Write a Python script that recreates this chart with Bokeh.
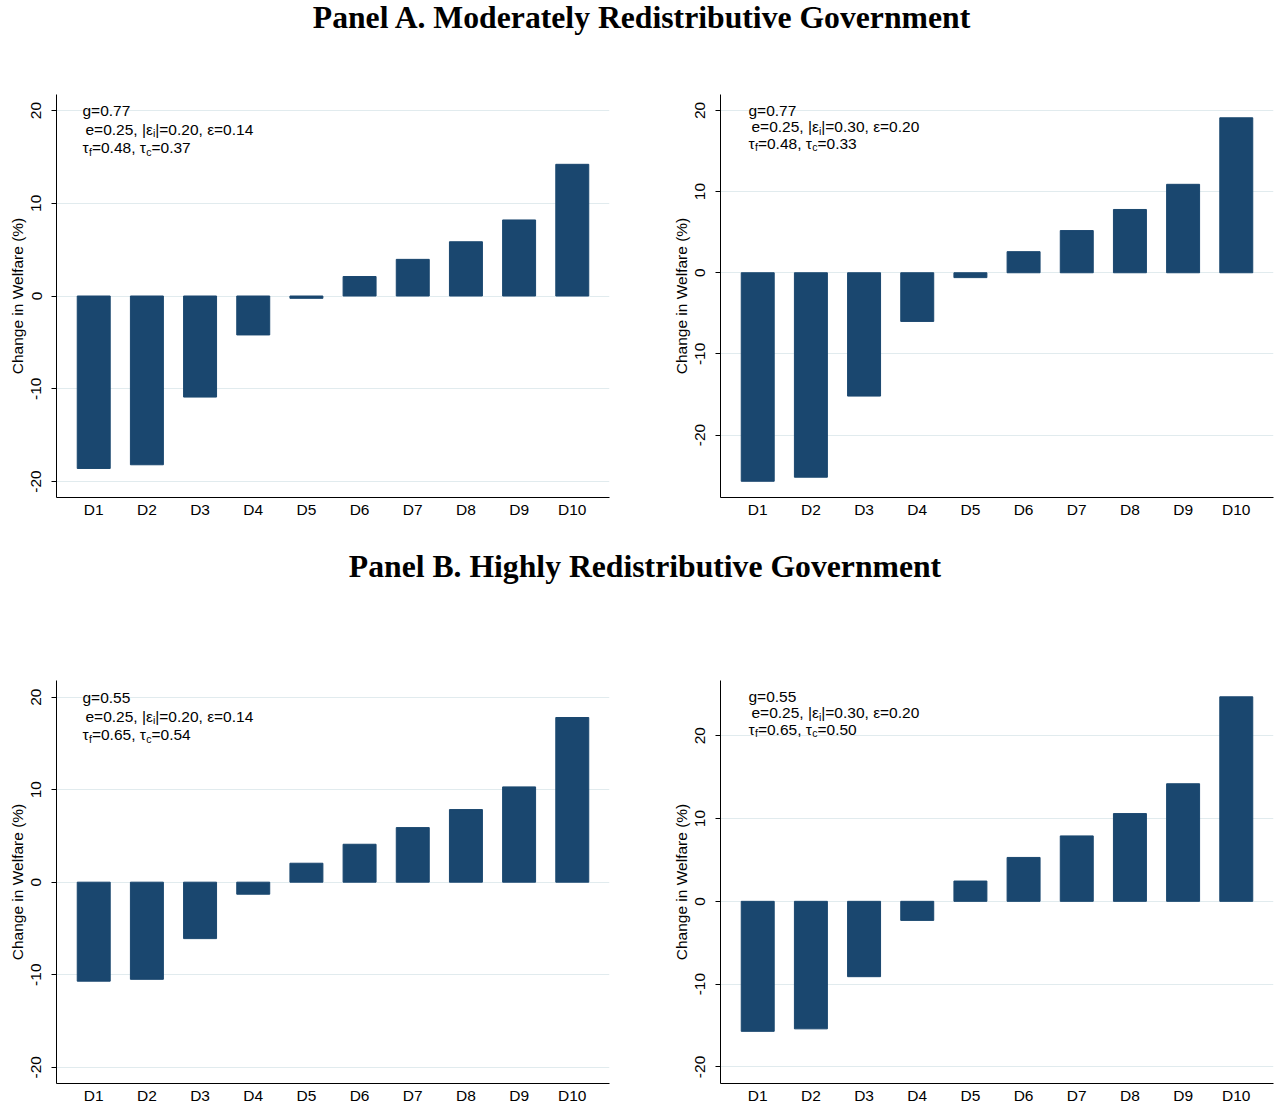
from bokeh.plotting import figure
from bokeh.models import FactorRange, Range1d, FixedTicker, Label, Div
from bokeh.layouts import column, row
from bokeh.embed import file_html
from bokeh.resources import INLINE

# ---------------- data ----------------
deciles = ["D1", "D2", "D3", "D4", "D5", "D6", "D7", "D8", "D9", "D10"]

welfare_a_left = [-18.6, -18.2, -10.9, -4.2, -0.25, 2.1, 3.95, 5.85, 8.2, 14.2]
welfare_a_right = [-25.7, -25.2, -15.2, -6.0, -0.6, 2.6, 5.2, 7.8, 10.9, 19.1]
welfare_b_left = [-10.7, -10.5, -6.1, -1.3, 2.05, 4.1, 5.9, 7.85, 10.3, 17.8]
welfare_b_right = [-15.7, -15.4, -9.1, -2.3, 2.45, 5.3, 7.9, 10.6, 14.2, 24.7]

y_ticks = [-20, -10, 0, 10, 20]

g_vals = ["0.77", "0.77", "0.55", "0.55"]
e_vals = ["0.25", "0.25", "0.25", "0.25"]
eps_i_vals = ["0.20", "0.30", "0.20", "0.30"]
eps_vals = ["0.14", "0.20", "0.14", "0.20"]
tau_f_vals = ["0.48", "0.48", "0.65", "0.65"]
tau_c_vals = ["0.37", "0.33", "0.54", "0.50"]

panel_titles = ["Panel A. Moderately Redistributive Government",
                "Panel B. Highly Redistributive Government"]
y_label = "Change in Welfare (%)"

# ---------------- style ----------------
NAVY = "#1A476F"
GRID = "#e1ebee"
FONT = "Liberation Sans"
FS = 15.5

# approximate advance widths (em) for the sans font
WID = {"g": 0.556, "=": 0.584, ".": 0.278, ",": 0.278, " ": 0.278, "e": 0.556,
       "|": 0.260, "\u03b5": 0.45, "\u03c4": 0.42, "i": 0.222, "f": 0.278, "c": 0.5}


def tw(s, size):
    return sum(WID.get(ch, 0.556) for ch in s) * size


def rich_line(p, x0, y, segs, size=FS, sub_size=10.5, sub_drop=4):
    x = x0
    for txt, sub in segs:
        fs = sub_size if sub else size
        p.add_layout(Label(x=x, y=y - (sub_drop if sub else 0), x_units="screen", y_units="screen",
                           text=txt, text_font=FONT, text_font_size=f"{fs}px",
                           text_baseline="alphabetic", text_align="left", text_color="#000000"))
        x += tw(txt, fs)


def make_panel(values, yr, idx, left, right, bottom_border, top_border, x_text, y_text, dy):
    p = figure(x_range=FactorRange(factors=deciles, range_padding=0.2, range_padding_units="absolute"),
               y_range=Range1d(*yr), frame_width=553, frame_height=403,
               min_border_left=left, min_border_right=right,
               min_border_top=top_border, min_border_bottom=bottom_border,
               output_backend="svg", toolbar_location=None, background_fill_color="white",
               border_fill_color="white")
    p.outline_line_color = None
    p.vbar(x=deciles, top=values, bottom=0, width=0.62, fill_color=NAVY, line_color=NAVY, line_width=1)

    p.xgrid.visible = False
    p.ygrid.ticker = FixedTicker(ticks=y_ticks)
    p.ygrid.grid_line_color = GRID
    p.ygrid.grid_line_width = 1
    p.ygrid.level = "underlay"

    xa = p.xaxis[0]
    xa.axis_line_color = "#000000"
    xa.axis_line_width = 1
    xa.major_tick_out = 0
    xa.major_tick_in = 0
    xa.minor_tick_out = 0
    xa.major_label_standoff = 3
    xa.major_label_text_font = FONT
    xa.major_label_text_font_size = f"{FS}px"
    xa.major_label_text_color = "#000000"

    ya = p.yaxis[0]
    ya.ticker = FixedTicker(ticks=y_ticks)
    ya.major_label_overrides = {t: str(t) for t in y_ticks}
    ya.axis_line_color = "#000000"
    ya.axis_line_width = 1
    ya.major_tick_out = 5
    ya.major_tick_in = 0
    ya.major_tick_line_color = "#000000"
    ya.minor_tick_out = 0
    ya.minor_tick_in = 0
    ya.major_label_orientation = "vertical"
    ya.major_label_standoff = 10
    ya.major_label_text_font = FONT
    ya.major_label_text_font_size = f"{FS}px"
    ya.major_label_text_color = "#000000"
    ya.axis_label = y_label
    ya.axis_label_text_font = FONT
    ya.axis_label_text_font_size = f"{FS}px"
    ya.axis_label_text_font_style = "normal"
    ya.axis_label_text_color = "#000000"
    ya.axis_label_standoff = 3

    rich_line(p, x_text, y_text, [("g=" + g_vals[idx], False)])
    rich_line(p, x_text + 3, y_text - dy,
              [("e=" + e_vals[idx] + ", |\u03b5", False), ("i", True),
               ("|=" + eps_i_vals[idx] + ", \u03b5=" + eps_vals[idx], False)])
    rich_line(p, x_text, y_text - 2 * dy,
              [("\u03c4", False), ("f", True), ("=" + tau_f_vals[idx] + ", \u03c4", False),
               ("c", True), ("=" + tau_c_vals[idx], False)])
    return p


def title_div(text, h, indent):
    return Div(text=text, width=1275, height=h, margin=(0, 0, 0, 0),
               styles={"text-align": "center", "font-family": "'Liberation Serif', serif",
                       "font-weight": "bold", "font-size": "31.7px", "line-height": f"{36 if h < 60 else 74}px",
                       "text-indent": f"{indent}px",
                       "color": "#000000", "width": "1275px", "white-space": "nowrap"})


pa_l = make_panel(welfare_a_left, (-21.73, 21.73), 0, 56, 21, 33, 46, 26, 387, 18.5)
pa_r = make_panel(welfare_a_right, (-27.7, 21.97), 1, 90, 2, 33, 46, 28, 387, 16.3)
pb_l = make_panel(welfare_b_left, (-21.76, 21.8), 2, 56, 21, 24, 76, 26, 386, 18.5)
pb_r = make_panel(welfare_b_right, (-22.0, 26.67), 3, 90, 2, 24, 76, 28, 387, 16.3)

layout = column(title_div(panel_titles[0], 48, 8),
                row(pa_l, pa_r, spacing=0),
                title_div(panel_titles[1], 74, 15),
                row(pb_l, pb_r, spacing=0),
                spacing=0)

open("out.html", "w").write(file_html(layout, INLINE))
